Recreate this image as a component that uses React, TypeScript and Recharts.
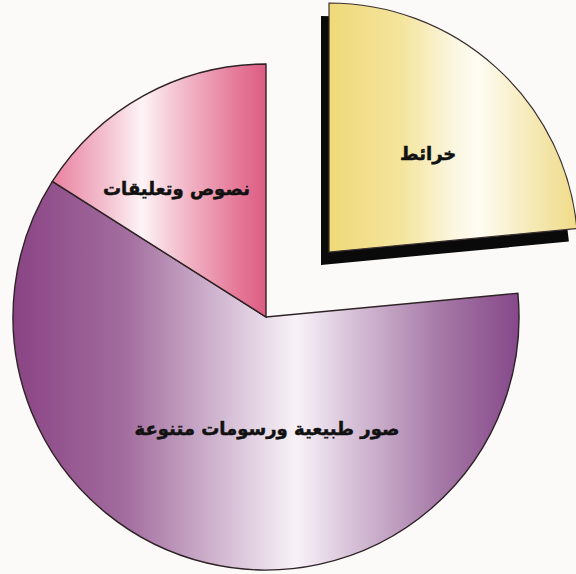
import { PieChart, Pie, Cell } from "recharts";

// ── Data ──────────────────────────────────────────────────────────────────────

const categories = ["خرائط", "صور طبيعية ورسومات متنوعة", "نصوص وتعليقات"];
const shares = [23.5, 60.5, 16];

const data = categories.map((name, i) => ({ name, value: shares[i] }));

// which slice is pulled out of the pie
const EXPLODED = 0;

const FILLS = ["url(#gradYellow)", "url(#gradPurple)", "url(#gradPink)"];

// label placement: fraction of radius + small angle tweak (deg)
const LABEL_POS = [
  { r: 0.56, a: -3 },
  { r: 0.44, a: 14 },
  { r: 0.62, a: 6 },
];

const RAD = Math.PI / 180;

interface LabelProps {
  cx?: number;
  cy?: number;
  midAngle?: number;
  outerRadius?: number;
  index?: number;
  name?: string;
}

function makeLabel(show: (i: number) => boolean) {
  return function SliceLabel({ cx = 0, cy = 0, midAngle = 0, outerRadius = 0, index = 0 }: LabelProps) {
    if (!show(index)) return null;
    const pos = LABEL_POS[index];
    const ang = (midAngle + pos.a) * RAD;
    const r = outerRadius * pos.r;
    const x = cx + r * Math.cos(ang);
    const y = cy - r * Math.sin(ang);
    return (
      <text
        x={x}
        y={y}
        textAnchor="middle"
        dominantBaseline="central"
        fontFamily="'DejaVu Sans', sans-serif"
        fontWeight="bold"
        fontSize={18}
        fill="#111"
        stroke="#111"
        strokeWidth={0.5}
      >
        {categories[index]}
      </text>
    );
  };
}

// ── Chart ─────────────────────────────────────────────────────────────────────

const R = 253;

export default function App() {
  return (
    <div
      style={{
        position: "absolute",
        left: 0,
        top: 0,
        width: 576,
        height: 574,
        background: "#fbfaf8",
      }}
    >
      <PieChart width={576} height={574} margin={{ top: 0, right: 0, bottom: 0, left: 0 }}>
        <defs>
          <linearGradient id="gradYellow" x1="0" y1="0" x2="1" y2="0">
            <stop offset="0%" stopColor="#efd97a" />
            <stop offset="30%" stopColor="#f4e59e" />
            <stop offset="50%" stopColor="#fbf6df" />
            <stop offset="60%" stopColor="#fefcf3" />
            <stop offset="80%" stopColor="#f6ebbb" />
            <stop offset="100%" stopColor="#efdb88" />
          </linearGradient>
          <linearGradient id="gradPink" x1="0" y1="0" x2="1" y2="0">
            <stop offset="0%" stopColor="#e9819f" />
            <stop offset="25%" stopColor="#f3c1d0" />
            <stop offset="42%" stopColor="#fdf4f7" />
            <stop offset="58%" stopColor="#f4c3d1" />
            <stop offset="85%" stopColor="#e67d9b" />
            <stop offset="100%" stopColor="#dc5c82" />
          </linearGradient>
          <linearGradient id="gradPurple" x1="0" y1="0" x2="1" y2="0">
            <stop offset="0%" stopColor="#8a4484" />
            <stop offset="22%" stopColor="#a26c9e" />
            <stop offset="45%" stopColor="#dcc8dc" />
            <stop offset="56%" stopColor="#f8f3f8" />
            <stop offset="66%" stopColor="#dac5db" />
            <stop offset="85%" stopColor="#a477a5" />
            <stop offset="100%" stopColor="#86488a" />
          </linearGradient>
        </defs>

        {/* shadow of the pulled-out slice */}
        <Pie
          data={data}
          dataKey="value"
          cx={321}
          cy={265}
          outerRadius={R - 4}
          startAngle={90}
          endAngle={-270}
          stroke="none"
          isAnimationActive={false}
        >
          {data.map((_, i) => (
            <Cell key={i} fill={i === EXPLODED ? "#0a0a0a" : "none"} />
          ))}
        </Pie>

        {/* pulled-out slice */}
        <Pie
          data={data}
          dataKey="value"
          cx={329}
          cy={252}
          outerRadius={R - 4}
          startAngle={90}
          endAngle={-270}
          isAnimationActive={false}
          labelLine={false}
          label={makeLabel((i) => i === EXPLODED)}
        >
          {data.map((_, i) => (
            <Cell
              key={i}
              fill={i === EXPLODED ? FILLS[i] : "none"}
              stroke={i === EXPLODED ? "#3b3030" : "none"}
              strokeWidth={1.2}
            />
          ))}
        </Pie>

        {/* the rest of the pie */}
        <Pie
          data={data}
          dataKey="value"
          cx={266}
          cy={317}
          outerRadius={R}
          startAngle={90}
          endAngle={-270}
          isAnimationActive={false}
          labelLine={false}
          label={makeLabel((i) => i !== EXPLODED)}
        >
          {data.map((_, i) => (
            <Cell
              key={i}
              fill={i === EXPLODED ? "none" : FILLS[i]}
              stroke={i === EXPLODED ? "none" : "#2e2226"}
              strokeWidth={1.4}
            />
          ))}
        </Pie>
      </PieChart>
    </div>
  );
}
